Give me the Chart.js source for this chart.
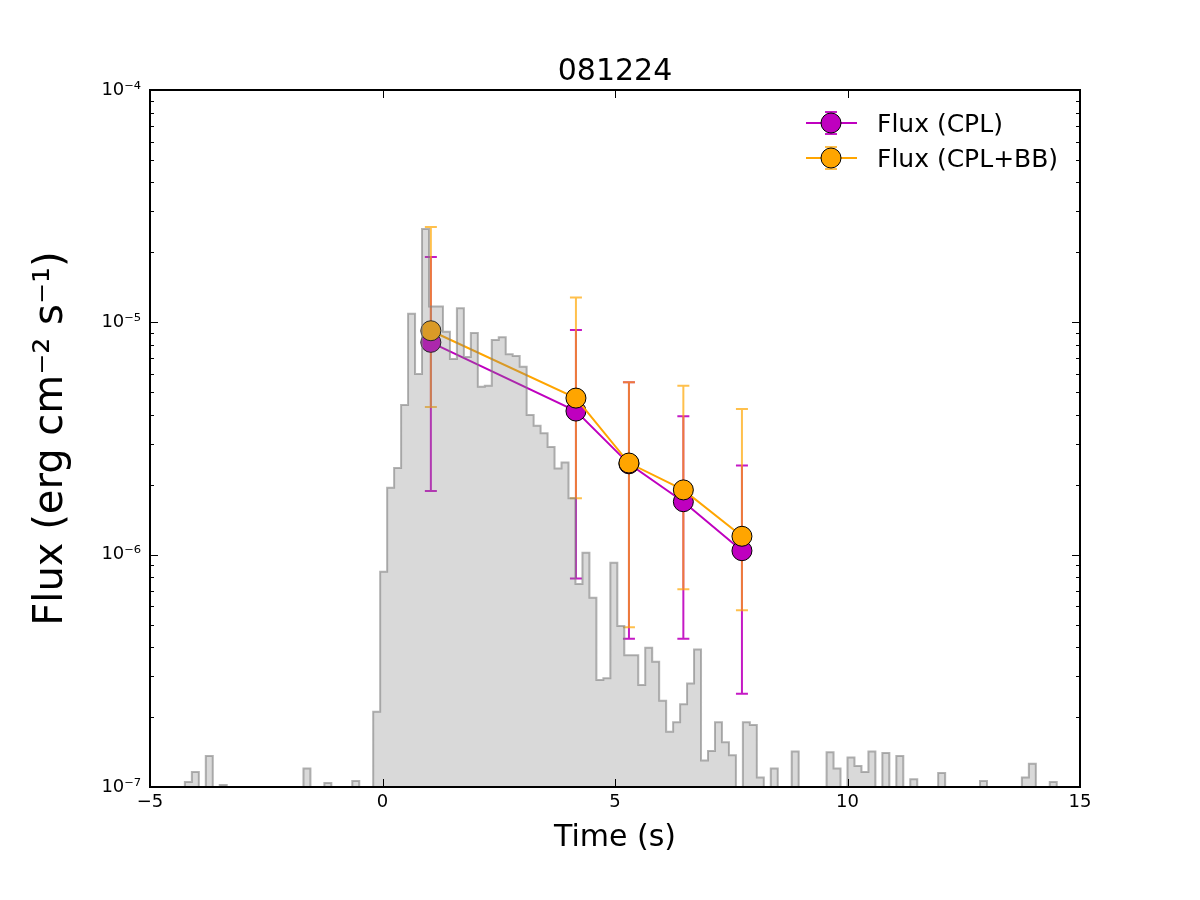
<!DOCTYPE html>
<html>
<head>
<meta charset="utf-8">
<script src="https://cdn.jsdelivr.net/npm/chart.js@4.4.1/dist/chart.umd.min.js"></script>
<style>
  body { margin: 0; background: #ffffff; }
  canvas { display: block; }
</style>
</head>
<body>
<canvas id="grbChart" width="1200" height="900"></canvas>
<script>
// light curve, 0.15 s bins starting at -5 s, scaled to flux units (0 = empty bin)
var binStart = -5;
var binWidth = 0.15;
var lightCurve = [
  0, 0, 0, 0, 0, 1.05e-7, 1.16e-7, 0, 1.36e-7, 0,
  1.02e-7, 0, 0, 0, 0, 0, 0, 0, 0, 0,
  0, 0, 1.20e-7, 0, 0, 1.04e-7, 0, 0, 0, 1.06e-7,
  0, 0, 2.11e-7, 8.45e-7, 1.94e-6, 2.36e-6, 4.41e-6, 1.09e-5, 6.0e-6, 2.52e-5,
  1.17e-5, 1.17e-5, 9.1e-6, 6.95e-6, 1.15e-5, 7.1e-6, 9.0e-6, 5.28e-6, 5.34e-6, 8.4e-6,
  8.62e-6, 7.29e-6, 7.16e-6, 6.44e-6, 3.99e-6, 3.59e-6, 3.33e-6, 2.91e-6, 2.35e-6, 2.49e-6,
  1.75e-6, 7.48e-7, 1.02e-6, 6.53e-7, 2.89e-7, 2.94e-7, 9.24e-7, 4.93e-7, 3.69e-7, 3.69e-7,
  2.75e-7, 3.98e-7, 3.46e-7, 2.35e-7, 1.73e-7, 1.90e-7, 2.27e-7, 2.79e-7, 3.91e-7, 1.30e-7,
  1.43e-7, 1.90e-7, 1.56e-7, 1.37e-7, 0, 1.90e-7, 1.85e-7, 1.10e-7, 0, 1.20e-7,
  0, 0, 1.42e-7, 0, 0, 0, 0, 1.41e-7, 1.20e-7, 0,
  1.34e-7, 1.23e-7, 1.16e-7, 1.42e-7, 0, 1.40e-7, 0, 1.36e-7, 0, 1.08e-7,
  0, 0, 0, 1.15e-7, 0, 0, 0, 0, 0, 1.06e-7,
  0, 0, 0, 0, 0, 1.10e-7, 1.26e-7, 0, 0, 1.05e-7
];

// time-resolved spectral fits
var timeCenters = [1.04, 4.16, 5.30, 6.47, 7.73];
var fluxCPL     = [8.2e-6, 4.15e-6, 2.46e-6, 1.69e-6, 1.04e-6];
var fluxCPLLow  = [1.88e-6, 7.9e-7, 4.35e-7, 4.35e-7, 2.52e-7];
var fluxCPLHigh = [1.91e-5, 9.27e-6, 5.52e-6, 3.94e-6, 2.42e-6];
var fluxBB      = [9.2e-6, 4.72e-6, 2.48e-6, 1.90e-6, 1.20e-6];
var fluxBBLow   = [4.32e-6, 1.75e-6, 4.87e-7, 7.09e-7, 5.76e-7];
var fluxBBHigh  = [2.57e-5, 1.28e-5, 5.52e-6, 5.34e-6, 4.24e-6];

var timeTicks = [-5, 0, 5, 10, 15];
var fluxTicks = [1e-7, 1e-6, 1e-5, 1e-4];

var FONT = 'DejaVu Sans';
var SUP = { '-': '\u207B', '0': '\u2070', '1': '\u00B9', '2': '\u00B2', '3': '\u00B3',
            '4': '\u2074', '5': '\u2075', '6': '\u2076', '7': '\u2077', '8': '\u2078', '9': '\u2079' };

function toPoints(xs, ys) {
  return xs.map(function (x, i) { return { x: x, y: ys[i] }; });
}

// step outline of the light curve (empty bins pushed below the axis)
var histPoints = lightCurve.map(function (v, k) {
  return { x: binStart + k * binWidth, y: v > 0 ? v : 1e-9 };
});
histPoints.push({ x: binStart + lightCurve.length * binWidth, y: 1e-9 });

var errorBars = {
  id: 'errorBars',
  beforeDatasetsDraw: function (chart) {
    var ctx = chart.ctx, xs = chart.scales.x, ys = chart.scales.y, a = chart.chartArea;
    ctx.save();
    ctx.beginPath();
    ctx.rect(a.left, a.top, a.width, a.height);
    ctx.clip();
    chart.data.datasets.forEach(function (ds) {
      if (!ds.errLow) return;
      ctx.strokeStyle = ds.errColor;
      ctx.lineWidth = 2;
      ds.data.forEach(function (p, i) {
        var px = xs.getPixelForValue(p.x);
        var lo = ys.getPixelForValue(ds.errLow[i]);
        var hi = ys.getPixelForValue(ds.errHigh[i]);
        ctx.beginPath();
        ctx.moveTo(px, lo); ctx.lineTo(px, hi);
        ctx.moveTo(px - 6, lo); ctx.lineTo(px + 6, lo);
        ctx.moveTo(px - 6, hi); ctx.lineTo(px + 6, hi);
        ctx.stroke();
      });
    });
    ctx.restore();
  }
};

var frameAndExtras = {
  id: 'frameAndExtras',
  afterDraw: function (chart) {
    var ctx = chart.ctx, xs = chart.scales.x, ys = chart.scales.y, a = chart.chartArea;
    ctx.save();
    ctx.strokeStyle = '#000';
    ctx.lineWidth = 1;
    ctx.beginPath();
    // inward ticks on all four sides
    timeTicks.forEach(function (v) {
      var px = Math.round(xs.getPixelForValue(v)) + 0.5;
      ctx.moveTo(px, a.bottom); ctx.lineTo(px, a.bottom - 8);
      ctx.moveTo(px, a.top); ctx.lineTo(px, a.top + 8);
    });
    fluxTicks.forEach(function (d, n) {
      var py = Math.round(ys.getPixelForValue(d)) + 0.5;
      ctx.moveTo(a.left, py); ctx.lineTo(a.left + 8, py);
      ctx.moveTo(a.right, py); ctx.lineTo(a.right - 8, py);
      if (n === fluxTicks.length - 1) return;
      for (var m = 2; m <= 9; m++) {
        var my = Math.round(ys.getPixelForValue(d * m)) + 0.5;
        ctx.moveTo(a.left, my); ctx.lineTo(a.left + 4, my);
        ctx.moveTo(a.right, my); ctx.lineTo(a.right - 4, my);
      }
    });
    ctx.stroke();
    ctx.lineWidth = 2;
    ctx.strokeRect(a.left, a.top, a.right - a.left, a.bottom - a.top);

    // title
    ctx.fillStyle = '#000';
    ctx.font = '30px "' + FONT + '"';
    ctx.textAlign = 'center';
    ctx.textBaseline = 'alphabetic';
    ctx.fillText('081224', (a.left + a.right) / 2, 80);

    // legend (error bar handle + marker + label)
    var series = chart.data.datasets.filter(function (ds) { return ds.errLow; });
    var lx = a.right - 274, ly = a.top + 33;
    series.forEach(function (ds, i) {
      var y = ly + i * 35, xc = lx + 25;
      ctx.strokeStyle = ds.borderColor;
      ctx.lineWidth = 2;
      ctx.beginPath(); ctx.moveTo(lx, y); ctx.lineTo(lx + 51, y); ctx.stroke();
      ctx.strokeStyle = ds.errColor;
      ctx.beginPath();
      ctx.moveTo(xc, y - 11); ctx.lineTo(xc, y + 11);
      ctx.moveTo(xc - 6, y - 11); ctx.lineTo(xc + 6, y - 11);
      ctx.moveTo(xc - 6, y + 11); ctx.lineTo(xc + 6, y + 11);
      ctx.stroke();
      ctx.beginPath();
      ctx.arc(xc, y, 10, 0, Math.PI * 2);
      ctx.fillStyle = ds.pointBackgroundColor;
      ctx.fill();
      ctx.lineWidth = 1;
      ctx.strokeStyle = '#000';
      ctx.stroke();
      ctx.fillStyle = '#000';
      ctx.font = '25px "' + FONT + '"';
      ctx.textAlign = 'left';
      ctx.fillText(ds.label, lx + 71, y + 9);
    });
    ctx.restore();
  }
};

Chart.defaults.font.family = FONT;
Chart.defaults.color = '#000';

new Chart(document.getElementById('grbChart'), {
  type: 'line',
  data: {
    datasets: [{
      label: 'Flux (CPL)',
      data: toPoints(timeCenters, fluxCPL),
      errLow: fluxCPLLow,
      errHigh: fluxCPLHigh,
      errColor: 'rgba(191,0,191,0.9)',
      borderColor: '#BF00BF',
      borderWidth: 2,
      pointRadius: 10,
      pointBackgroundColor: '#BF00BF',
      pointBorderColor: '#000',
      pointBorderWidth: 1,
      fill: false,
      order: 2
    }, {
      label: 'Flux (CPL+BB)',
      data: toPoints(timeCenters, fluxBB),
      errLow: fluxBBLow,
      errHigh: fluxBBHigh,
      errColor: 'rgba(255,165,0,0.7)',
      borderColor: '#FFA500',
      borderWidth: 2,
      pointRadius: 10,
      pointBackgroundColor: '#FFA500',
      pointBorderColor: '#000',
      pointBorderWidth: 1,
      fill: false,
      order: 1
    }, {
      label: 'light curve',
      data: histPoints,
      stepped: true,
      fill: 'start',
      backgroundColor: 'rgba(128,128,128,0.3)',
      borderColor: 'rgba(128,128,128,0.6)',
      borderWidth: 2,
      pointRadius: 0,
      order: 0
    }]
  },
  options: {
    responsive: false,
    animation: false,
    events: [],
    layout: { padding: { top: 90, right: 120, left: 0, bottom: 0 } },
    plugins: {
      legend: { display: false },
      title: { display: false },
      tooltip: { enabled: false }
    },
    scales: {
      x: {
        type: 'linear',
        min: -5,
        max: 15,
        grid: { display: false, drawTicks: false },
        border: { display: false },
        afterBuildTicks: function (s) { s.ticks = timeTicks.map(function (v) { return { value: v }; }); },
        afterFit: function (s) { s.height = 113; },
        ticks: {
          maxRotation: 0,
          padding: 5,
          font: { size: 18 },
          callback: function (v) { return v < 0 ? '\u2212' + Math.abs(v) : String(v); }
        },
        title: { display: true, text: 'Time (s)', font: { size: 30 }, padding: { top: 0, bottom: 44 } }
      },
      y: {
        type: 'logarithmic',
        min: 1e-7,
        max: 1e-4,
        grid: { display: false, drawTicks: false },
        border: { display: false },
        afterBuildTicks: function (s) { s.ticks = fluxTicks.map(function (v) { return { value: v }; }); },
        afterFit: function (s) { s.width = 150; },
        ticks: {
          padding: 9,
          font: { size: 18 },
          callback: function (v) {
            var e = String(Math.round(Math.log10(v)));
            return '10' + e.split('').map(function (c) { return SUP[c]; }).join('');
          }
        },
        title: {
          display: true,
          text: 'Flux (erg cm\u207B\u00B2 s\u207B\u00B9)',
          font: { size: 40 },
          padding: { top: 28, bottom: 0 }
        }
      }
    }
  },
  plugins: [errorBars, frameAndExtras]
});
</script>
</body>
</html>
